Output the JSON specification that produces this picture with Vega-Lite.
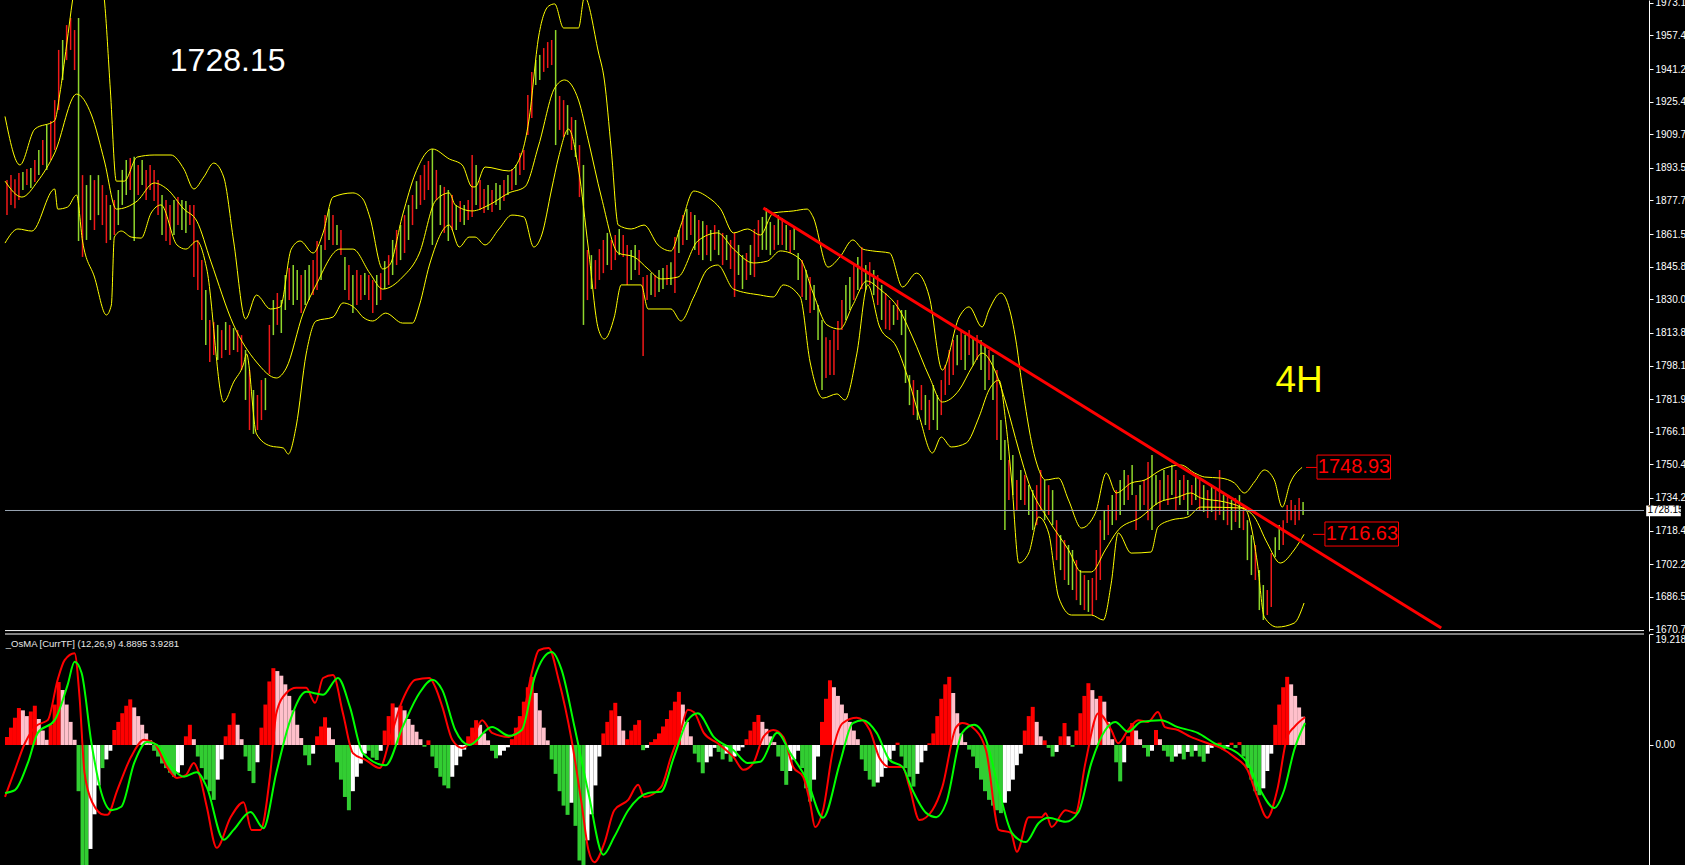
{
"$schema":"https://vega.github.io/schema/vega-lite/v6.json",
"width":1649,"height":865,
"autosize":{"type":"none"},
"padding":{"left":0,"top":0,"right":36,"bottom":0},
"background":"#000000",
"config":{"view":{"stroke":null},"axis":{"grid":false}},
"data":{"values":[{}]},
"datasets":{
"bars":[
{"i":0,"hi":1887.6,"lo":1870.7,"d":"d","h":1.4,"c":"r"},
{"i":1,"hi":1890.0,"lo":1875.6,"d":"d","h":3.0,"c":"r"},
{"i":2,"hi":1888.0,"lo":1874.0,"d":"d","h":4.7,"c":"r"},
{"i":3,"hi":1891.0,"lo":1878.0,"d":"d","h":6.4,"c":"r"},
{"i":4,"hi":1891.5,"lo":1882.8,"d":"u","h":6.0,"c":"p"},
{"i":5,"hi":1893.0,"lo":1885.2,"d":"d","h":5.0,"c":"p"},
{"i":6,"hi":1893.4,"lo":1883.8,"d":"u","h":5.8,"c":"r"},
{"i":7,"hi":1897.3,"lo":1886.7,"d":"d","h":6.8,"c":"r"},
{"i":8,"hi":1902.1,"lo":1890.0,"d":"u","h":4.5,"c":"p"},
{"i":9,"hi":1906.9,"lo":1894.9,"d":"d","h":2.5,"c":"p"},
{"i":10,"hi":1914.2,"lo":1892.5,"d":"u","h":0.9,"c":"p"},
{"i":11,"hi":1916.1,"lo":1897.3,"d":"d","h":3.5,"c":"r"},
{"i":12,"hi":1926.2,"lo":1902.1,"d":"d","h":7.0,"c":"r"},
{"i":13,"hi":1950.4,"lo":1921.4,"d":"d","h":10.9,"c":"r"},
{"i":14,"hi":1955.2,"lo":1935.9,"d":"u","h":9.5,"c":"p"},
{"i":15,"hi":1962.4,"lo":1945.5,"d":"d","h":7.0,"c":"p"},
{"i":16,"hi":1965.8,"lo":1950.4,"d":"d","h":4.0,"c":"p"},
{"i":17,"hi":1960.0,"lo":1940.7,"d":"d","h":0.9,"c":"p"},
{"i":18,"hi":1965.8,"lo":1858.2,"d":"u","h":-8,"c":"g"},
{"i":19,"hi":1890.0,"lo":1850.5,"d":"d","h":-21,"c":"g"},
{"i":20,"hi":1885.2,"lo":1858.7,"d":"u","h":-21,"c":"g"},
{"i":21,"hi":1890.0,"lo":1868.3,"d":"u","h":-18,"c":"w"},
{"i":22,"hi":1887.6,"lo":1863.5,"d":"d","h":-12,"c":"w"},
{"i":23,"hi":1890.0,"lo":1870.7,"d":"u","h":-7,"c":"w"},
{"i":24,"hi":1885.2,"lo":1865.9,"d":"d","h":-4,"c":"g"},
{"i":25,"hi":1880.4,"lo":1857.2,"d":"d","h":-2.5,"c":"w"},
{"i":26,"hi":1875.6,"lo":1858.7,"d":"u","h":-1,"c":"w"},
{"i":27,"hi":1878.0,"lo":1861.1,"d":"d","h":2.6,"c":"r"},
{"i":28,"hi":1882.8,"lo":1865.9,"d":"u","h":4.0,"c":"r"},
{"i":29,"hi":1892.5,"lo":1875.6,"d":"u","h":5.5,"c":"r"},
{"i":30,"hi":1897.3,"lo":1880.4,"d":"u","h":6.8,"c":"r"},
{"i":31,"hi":1898.3,"lo":1882.8,"d":"d","h":7.9,"c":"r"},
{"i":32,"hi":1898.8,"lo":1858.2,"d":"u","h":6.5,"c":"p"},
{"i":33,"hi":1894.9,"lo":1880.4,"d":"d","h":5.0,"c":"p"},
{"i":34,"hi":1897.3,"lo":1885.2,"d":"u","h":3.5,"c":"p"},
{"i":35,"hi":1892.5,"lo":1878.0,"d":"d","h":2.0,"c":"p"},
{"i":36,"hi":1894.9,"lo":1882.8,"d":"d","h":0.8,"c":"p"},
{"i":37,"hi":1892.5,"lo":1877.5,"d":"d","h":-1.0,"c":"g"},
{"i":38,"hi":1887.6,"lo":1870.7,"d":"d","h":-2.0,"c":"g"},
{"i":39,"hi":1880.4,"lo":1861.1,"d":"u","h":-3.2,"c":"g"},
{"i":40,"hi":1878.0,"lo":1858.2,"d":"d","h":-4.0,"c":"g"},
{"i":41,"hi":1875.6,"lo":1856.3,"d":"d","h":-4.8,"c":"g"},
{"i":42,"hi":1878.0,"lo":1861.1,"d":"u","h":-5.5,"c":"g"},
{"i":43,"hi":1879.4,"lo":1865.9,"d":"d","h":-4.8,"c":"w"},
{"i":44,"hi":1878.0,"lo":1863.5,"d":"u","h":-3.5,"c":"w"},
{"i":45,"hi":1877.5,"lo":1862.1,"d":"u","h":1.5,"c":"r"},
{"i":46,"hi":1875.6,"lo":1865.9,"d":"d","h":3.5,"c":"r"},
{"i":47,"hi":1875.6,"lo":1840.8,"d":"d","h":1.0,"c":"p"},
{"i":48,"hi":1858.7,"lo":1834.5,"d":"d","h":-2,"c":"g"},
{"i":49,"hi":1849.0,"lo":1820.1,"d":"d","h":-4,"c":"g"},
{"i":50,"hi":1834.5,"lo":1808.0,"d":"u","h":-6,"c":"g"},
{"i":51,"hi":1820.1,"lo":1799.8,"d":"d","h":-8,"c":"g"},
{"i":52,"hi":1819.1,"lo":1803.2,"d":"d","h":-9.5,"c":"g"},
{"i":53,"hi":1817.7,"lo":1800.8,"d":"u","h":-6,"c":"w"},
{"i":54,"hi":1815.2,"lo":1801.7,"d":"d","h":-2.5,"c":"w"},
{"i":55,"hi":1819.1,"lo":1805.6,"d":"u","h":1.5,"c":"r"},
{"i":56,"hi":1817.7,"lo":1803.2,"d":"d","h":3.5,"c":"r"},
{"i":57,"hi":1816.2,"lo":1805.6,"d":"u","h":5.5,"c":"r"},
{"i":58,"hi":1815.2,"lo":1804.6,"d":"d","h":3.5,"c":"p"},
{"i":59,"hi":1812.8,"lo":1795.9,"d":"d","h":1.0,"c":"p"},
{"i":60,"hi":1805.6,"lo":1781.5,"d":"u","h":-2,"c":"g"},
{"i":61,"hi":1795.9,"lo":1767.0,"d":"d","h":-4.5,"c":"g"},
{"i":62,"hi":1786.3,"lo":1765.1,"d":"u","h":-6.6,"c":"g"},
{"i":63,"hi":1783.9,"lo":1767.0,"d":"d","h":-3.0,"c":"w"},
{"i":64,"hi":1791.1,"lo":1771.8,"d":"d","h":3.0,"c":"r"},
{"i":65,"hi":1792.1,"lo":1776.6,"d":"u","h":7.0,"c":"r"},
{"i":66,"hi":1817.7,"lo":1794.0,"d":"d","h":11.0,"c":"r"},
{"i":67,"hi":1829.7,"lo":1812.8,"d":"u","h":13.3,"c":"r"},
{"i":68,"hi":1833.1,"lo":1817.7,"d":"d","h":12.8,"c":"p"},
{"i":69,"hi":1829.7,"lo":1813.8,"d":"u","h":12.0,"c":"p"},
{"i":70,"hi":1841.8,"lo":1824.9,"d":"u","h":10.5,"c":"p"},
{"i":71,"hi":1845.2,"lo":1829.7,"d":"d","h":8.5,"c":"p"},
{"i":72,"hi":1846.6,"lo":1827.3,"d":"u","h":6.0,"c":"p"},
{"i":73,"hi":1844.2,"lo":1829.7,"d":"u","h":3.5,"c":"p"},
{"i":74,"hi":1841.8,"lo":1823.4,"d":"d","h":1.2,"c":"p"},
{"i":75,"hi":1844.2,"lo":1827.3,"d":"u","h":-1.8,"c":"g"},
{"i":76,"hi":1846.6,"lo":1829.7,"d":"u","h":-3.5,"c":"g"},
{"i":77,"hi":1849.0,"lo":1832.1,"d":"d","h":-1.5,"c":"w"},
{"i":78,"hi":1858.2,"lo":1834.5,"d":"d","h":1.5,"c":"r"},
{"i":79,"hi":1856.3,"lo":1839.4,"d":"u","h":3.2,"c":"r"},
{"i":80,"hi":1870.7,"lo":1853.9,"d":"d","h":4.8,"c":"r"},
{"i":81,"hi":1873.6,"lo":1858.7,"d":"u","h":3.0,"c":"p"},
{"i":82,"hi":1870.7,"lo":1856.3,"d":"d","h":1.0,"c":"p"},
{"i":83,"hi":1865.9,"lo":1856.3,"d":"u","h":-3,"c":"g"},
{"i":84,"hi":1863.5,"lo":1851.4,"d":"d","h":-6,"c":"g"},
{"i":85,"hi":1850.5,"lo":1834.5,"d":"u","h":-9,"c":"g"},
{"i":86,"hi":1846.6,"lo":1829.7,"d":"d","h":-11.3,"c":"g"},
{"i":87,"hi":1841.8,"lo":1823.4,"d":"u","h":-8,"c":"w"},
{"i":88,"hi":1844.2,"lo":1827.3,"d":"d","h":-5.5,"c":"w"},
{"i":89,"hi":1841.8,"lo":1829.7,"d":"d","h":-3.2,"c":"w"},
{"i":90,"hi":1842.7,"lo":1832.1,"d":"u","h":-1.5,"c":"w"},
{"i":91,"hi":1841.8,"lo":1829.7,"d":"d","h":-1.0,"c":"g"},
{"i":92,"hi":1839.4,"lo":1823.4,"d":"d","h":-2.2,"c":"g"},
{"i":93,"hi":1841.8,"lo":1827.3,"d":"u","h":-2.6,"c":"g"},
{"i":94,"hi":1842.7,"lo":1829.7,"d":"d","h":-1.0,"c":"w"},
{"i":95,"hi":1848.5,"lo":1835.0,"d":"u","h":2.5,"c":"r"},
{"i":96,"hi":1851.4,"lo":1837.0,"d":"d","h":5.0,"c":"r"},
{"i":97,"hi":1858.7,"lo":1841.8,"d":"u","h":7.2,"c":"r"},
{"i":98,"hi":1863.5,"lo":1846.6,"d":"d","h":6.5,"c":"p"},
{"i":99,"hi":1865.9,"lo":1849.0,"d":"u","h":6.8,"c":"r"},
{"i":100,"hi":1870.7,"lo":1852.4,"d":"d","h":6.0,"c":"p"},
{"i":101,"hi":1875.6,"lo":1858.7,"d":"u","h":4.5,"c":"p"},
{"i":102,"hi":1880.4,"lo":1865.9,"d":"d","h":3.5,"c":"p"},
{"i":103,"hi":1887.1,"lo":1873.6,"d":"u","h":2.3,"c":"p"},
{"i":104,"hi":1890.0,"lo":1875.6,"d":"d","h":1.0,"c":"p"},
{"i":105,"hi":1894.9,"lo":1878.0,"d":"d","h":-0.3,"c":"g"},
{"i":106,"hi":1896.8,"lo":1882.8,"d":"d","h":0.8,"c":"r"},
{"i":107,"hi":1902.6,"lo":1856.3,"d":"u","h":-2.0,"c":"g"},
{"i":108,"hi":1892.5,"lo":1878.0,"d":"d","h":-4.0,"c":"g"},
{"i":109,"hi":1885.2,"lo":1865.9,"d":"u","h":-5.5,"c":"g"},
{"i":110,"hi":1884.3,"lo":1862.1,"d":"d","h":-7.0,"c":"g"},
{"i":111,"hi":1882.8,"lo":1858.2,"d":"u","h":-7.5,"c":"g"},
{"i":112,"hi":1880.4,"lo":1863.5,"d":"d","h":-5.5,"c":"w"},
{"i":113,"hi":1875.6,"lo":1863.5,"d":"u","h":-3.5,"c":"w"},
{"i":114,"hi":1877.5,"lo":1867.4,"d":"d","h":-2.0,"c":"w"},
{"i":115,"hi":1875.6,"lo":1865.9,"d":"u","h":-0.8,"c":"w"},
{"i":116,"hi":1878.0,"lo":1868.3,"d":"d","h":1.5,"c":"r"},
{"i":117,"hi":1899.7,"lo":1869.8,"d":"d","h":3.0,"c":"r"},
{"i":118,"hi":1894.9,"lo":1875.6,"d":"u","h":4.3,"c":"r"},
{"i":119,"hi":1887.6,"lo":1873.2,"d":"d","h":3.5,"c":"p"},
{"i":120,"hi":1883.3,"lo":1871.7,"d":"d","h":2.0,"c":"p"},
{"i":121,"hi":1885.2,"lo":1873.2,"d":"u","h":0.8,"c":"p"},
{"i":122,"hi":1882.8,"lo":1872.2,"d":"d","h":-1.0,"c":"g"},
{"i":123,"hi":1886.2,"lo":1875.6,"d":"u","h":-2.3,"c":"g"},
{"i":124,"hi":1885.2,"lo":1873.2,"d":"u","h":-1.8,"c":"w"},
{"i":125,"hi":1887.6,"lo":1877.5,"d":"d","h":-1.0,"c":"w"},
{"i":126,"hi":1890.0,"lo":1880.4,"d":"u","h":-0.4,"c":"w"},
{"i":127,"hi":1892.9,"lo":1882.8,"d":"d","h":1.0,"c":"r"},
{"i":128,"hi":1894.9,"lo":1885.2,"d":"u","h":3.0,"c":"r"},
{"i":129,"hi":1900.7,"lo":1890.0,"d":"d","h":5.0,"c":"r"},
{"i":130,"hi":1902.1,"lo":1892.5,"d":"d","h":7.5,"c":"r"},
{"i":131,"hi":1928.7,"lo":1909.4,"d":"d","h":10.0,"c":"r"},
{"i":132,"hi":1939.8,"lo":1917.6,"d":"d","h":11.8,"c":"r"},
{"i":133,"hi":1945.5,"lo":1933.5,"d":"u","h":9.0,"c":"p"},
{"i":134,"hi":1948.0,"lo":1935.9,"d":"u","h":6.0,"c":"p"},
{"i":135,"hi":1951.3,"lo":1939.8,"d":"d","h":3.0,"c":"p"},
{"i":136,"hi":1954.2,"lo":1941.7,"d":"d","h":0.8,"c":"p"},
{"i":137,"hi":1955.2,"lo":1943.1,"d":"d","h":-2.5,"c":"g"},
{"i":138,"hi":1960.0,"lo":1904.5,"d":"u","h":-5,"c":"g"},
{"i":139,"hi":1928.2,"lo":1911.8,"d":"d","h":-8,"c":"g"},
{"i":140,"hi":1926.2,"lo":1908.4,"d":"d","h":-10.5,"c":"g"},
{"i":141,"hi":1923.8,"lo":1909.4,"d":"u","h":-12.1,"c":"g"},
{"i":142,"hi":1918.0,"lo":1902.1,"d":"d","h":-10,"c":"w"},
{"i":143,"hi":1916.6,"lo":1898.7,"d":"u","h":-14,"c":"g"},
{"i":144,"hi":1904.5,"lo":1879.4,"d":"d","h":-20,"c":"g"},
{"i":145,"hi":1894.9,"lo":1817.7,"d":"u","h":-21,"c":"g"},
{"i":146,"hi":1853.9,"lo":1829.7,"d":"d","h":-16.5,"c":"w"},
{"i":147,"hi":1851.4,"lo":1835.0,"d":"u","h":-12,"c":"w"},
{"i":148,"hi":1849.0,"lo":1835.0,"d":"d","h":-7,"c":"w"},
{"i":149,"hi":1854.3,"lo":1839.4,"d":"d","h":-2,"c":"w"},
{"i":150,"hi":1858.7,"lo":1842.7,"d":"d","h":2,"c":"r"},
{"i":151,"hi":1862.1,"lo":1846.6,"d":"u","h":4,"c":"r"},
{"i":152,"hi":1858.7,"lo":1844.2,"d":"d","h":6,"c":"r"},
{"i":153,"hi":1861.1,"lo":1849.0,"d":"d","h":7.3,"c":"r"},
{"i":154,"hi":1864.0,"lo":1851.4,"d":"u","h":5,"c":"p"},
{"i":155,"hi":1861.1,"lo":1850.5,"d":"d","h":2.5,"c":"p"},
{"i":156,"hi":1856.3,"lo":1837.0,"d":"d","h":1.0,"c":"r"},
{"i":157,"hi":1853.9,"lo":1839.4,"d":"u","h":2.5,"c":"r"},
{"i":158,"hi":1856.3,"lo":1844.2,"d":"u","h":3.5,"c":"r"},
{"i":159,"hi":1853.9,"lo":1841.8,"d":"d","h":4.3,"c":"r"},
{"i":160,"hi":1840.8,"lo":1802.7,"d":"d","h":-0.9,"c":"g"},
{"i":161,"hi":1841.8,"lo":1829.7,"d":"d","h":-0.5,"c":"w"},
{"i":162,"hi":1842.7,"lo":1832.1,"d":"u","h":0.5,"c":"r"},
{"i":163,"hi":1841.8,"lo":1831.2,"d":"d","h":1.0,"c":"r"},
{"i":164,"hi":1844.2,"lo":1833.6,"d":"u","h":2.0,"c":"r"},
{"i":165,"hi":1845.2,"lo":1835.0,"d":"u","h":3.2,"c":"r"},
{"i":166,"hi":1846.6,"lo":1837.0,"d":"d","h":4.5,"c":"r"},
{"i":167,"hi":1848.0,"lo":1837.0,"d":"u","h":6.0,"c":"r"},
{"i":168,"hi":1860.1,"lo":1833.1,"d":"d","h":7.5,"c":"r"},
{"i":169,"hi":1863.5,"lo":1852.4,"d":"u","h":9.2,"c":"r"},
{"i":170,"hi":1870.7,"lo":1856.3,"d":"d","h":7.0,"c":"p"},
{"i":171,"hi":1873.6,"lo":1858.7,"d":"u","h":4.0,"c":"p"},
{"i":172,"hi":1872.2,"lo":1861.1,"d":"d","h":1.5,"c":"p"},
{"i":173,"hi":1870.7,"lo":1853.9,"d":"u","h":-1.5,"c":"g"},
{"i":174,"hi":1868.3,"lo":1851.4,"d":"d","h":-3,"c":"g"},
{"i":175,"hi":1867.8,"lo":1849.0,"d":"u","h":-4.9,"c":"g"},
{"i":176,"hi":1865.9,"lo":1851.4,"d":"d","h":-3,"c":"w"},
{"i":177,"hi":1863.5,"lo":1848.5,"d":"u","h":-2,"c":"w"},
{"i":178,"hi":1865.9,"lo":1853.9,"d":"d","h":-0.5,"c":"w"},
{"i":179,"hi":1863.5,"lo":1851.4,"d":"u","h":-1.2,"c":"g"},
{"i":180,"hi":1862.1,"lo":1846.6,"d":"d","h":-2.5,"c":"g"},
{"i":181,"hi":1861.1,"lo":1849.0,"d":"u","h":-1.5,"c":"w"},
{"i":182,"hi":1858.7,"lo":1844.7,"d":"d","h":-2.9,"c":"g"},
{"i":183,"hi":1862.1,"lo":1831.2,"d":"d","h":-2.0,"c":"w"},
{"i":184,"hi":1856.3,"lo":1841.8,"d":"u","h":-1.0,"c":"w"},
{"i":185,"hi":1851.4,"lo":1835.0,"d":"u","h":-0.4,"c":"w"},
{"i":186,"hi":1852.4,"lo":1839.4,"d":"d","h":1.0,"c":"r"},
{"i":187,"hi":1856.3,"lo":1841.8,"d":"u","h":2.5,"c":"r"},
{"i":188,"hi":1864.0,"lo":1840.8,"d":"d","h":4.0,"c":"r"},
{"i":189,"hi":1868.3,"lo":1850.5,"d":"d","h":5.2,"c":"r"},
{"i":190,"hi":1869.8,"lo":1853.9,"d":"u","h":4.0,"c":"p"},
{"i":191,"hi":1874.1,"lo":1853.9,"d":"u","h":2.8,"c":"p"},
{"i":192,"hi":1867.4,"lo":1851.4,"d":"u","h":1.5,"c":"p"},
{"i":193,"hi":1865.9,"lo":1853.9,"d":"d","h":0.5,"c":"p"},
{"i":194,"hi":1870.7,"lo":1856.3,"d":"u","h":-2,"c":"g"},
{"i":195,"hi":1869.3,"lo":1856.3,"d":"d","h":-4.5,"c":"g"},
{"i":196,"hi":1865.9,"lo":1853.9,"d":"u","h":-6.9,"c":"g"},
{"i":197,"hi":1863.5,"lo":1852.4,"d":"d","h":-4.5,"c":"w"},
{"i":198,"hi":1864.5,"lo":1853.9,"d":"u","h":-2.5,"c":"w"},
{"i":199,"hi":1852.4,"lo":1839.4,"d":"u","h":-1.0,"c":"w"},
{"i":200,"hi":1849.0,"lo":1831.2,"d":"d","h":-4,"c":"g"},
{"i":201,"hi":1844.2,"lo":1829.7,"d":"u","h":-7.5,"c":"g"},
{"i":202,"hi":1840.8,"lo":1823.4,"d":"d","h":-9.8,"c":"g"},
{"i":203,"hi":1837.0,"lo":1824.9,"d":"u","h":-6,"c":"w"},
{"i":204,"hi":1827.3,"lo":1810.4,"d":"u","h":-2,"c":"w"},
{"i":205,"hi":1820.1,"lo":1786.3,"d":"u","h":4,"c":"r"},
{"i":206,"hi":1811.8,"lo":1792.1,"d":"d","h":8,"c":"r"},
{"i":207,"hi":1810.4,"lo":1793.5,"d":"d","h":11.2,"c":"r"},
{"i":208,"hi":1815.2,"lo":1793.5,"d":"d","h":10,"c":"p"},
{"i":209,"hi":1819.6,"lo":1805.6,"d":"d","h":8.5,"c":"p"},
{"i":210,"hi":1829.7,"lo":1815.2,"d":"d","h":7,"c":"p"},
{"i":211,"hi":1837.0,"lo":1820.1,"d":"u","h":5.5,"c":"p"},
{"i":212,"hi":1840.8,"lo":1824.9,"d":"u","h":4,"c":"p"},
{"i":213,"hi":1846.6,"lo":1829.7,"d":"d","h":2.5,"c":"p"},
{"i":214,"hi":1850.5,"lo":1834.5,"d":"u","h":1,"c":"p"},
{"i":215,"hi":1855.3,"lo":1835.0,"d":"d","h":-2.5,"c":"g"},
{"i":216,"hi":1846.6,"lo":1834.5,"d":"u","h":-4.5,"c":"g"},
{"i":217,"hi":1848.0,"lo":1837.0,"d":"d","h":-6,"c":"g"},
{"i":218,"hi":1844.2,"lo":1832.1,"d":"u","h":-7.2,"c":"g"},
{"i":219,"hi":1841.8,"lo":1827.3,"d":"d","h":-6.5,"c":"w"},
{"i":220,"hi":1837.0,"lo":1820.1,"d":"u","h":-5.5,"c":"w"},
{"i":221,"hi":1833.1,"lo":1815.7,"d":"d","h":-4,"c":"w"},
{"i":222,"hi":1829.7,"lo":1815.2,"d":"d","h":-2.5,"c":"w"},
{"i":223,"hi":1827.3,"lo":1817.7,"d":"u","h":-1,"c":"w"},
{"i":224,"hi":1829.7,"lo":1820.1,"d":"d","h":0.4,"c":"r"},
{"i":225,"hi":1824.9,"lo":1812.8,"d":"u","h":-2,"c":"g"},
{"i":226,"hi":1824.9,"lo":1789.7,"d":"u","h":-4,"c":"g"},
{"i":227,"hi":1793.5,"lo":1779.0,"d":"u","h":-5.5,"c":"g"},
{"i":228,"hi":1791.1,"lo":1774.2,"d":"d","h":-7.2,"c":"g"},
{"i":229,"hi":1786.3,"lo":1771.8,"d":"u","h":-5,"c":"w"},
{"i":230,"hi":1788.7,"lo":1776.6,"d":"d","h":-3,"c":"w"},
{"i":231,"hi":1783.9,"lo":1769.4,"d":"u","h":-1,"c":"w"},
{"i":232,"hi":1781.5,"lo":1767.0,"d":"d","h":0.3,"c":"r"},
{"i":233,"hi":1788.7,"lo":1771.8,"d":"u","h":2.0,"c":"r"},
{"i":234,"hi":1783.9,"lo":1767.0,"d":"u","h":5.0,"c":"r"},
{"i":235,"hi":1791.1,"lo":1774.2,"d":"d","h":8.0,"c":"r"},
{"i":236,"hi":1798.3,"lo":1783.9,"d":"d","h":10.5,"c":"r"},
{"i":237,"hi":1805.6,"lo":1788.7,"d":"d","h":11.8,"c":"r"},
{"i":238,"hi":1810.4,"lo":1793.5,"d":"d","h":9,"c":"p"},
{"i":239,"hi":1812.8,"lo":1798.3,"d":"u","h":5.5,"c":"p"},
{"i":240,"hi":1815.2,"lo":1800.8,"d":"d","h":2,"c":"p"},
{"i":241,"hi":1812.8,"lo":1795.9,"d":"u","h":0.5,"c":"p"},
{"i":242,"hi":1815.2,"lo":1803.2,"d":"d","h":-0.8,"c":"g"},
{"i":243,"hi":1811.4,"lo":1798.3,"d":"u","h":-2,"c":"g"},
{"i":244,"hi":1812.8,"lo":1800.8,"d":"d","h":-4,"c":"g"},
{"i":245,"hi":1810.4,"lo":1795.9,"d":"u","h":-6,"c":"g"},
{"i":246,"hi":1808.0,"lo":1786.3,"d":"u","h":-8,"c":"g"},
{"i":247,"hi":1805.6,"lo":1791.1,"d":"d","h":-9.5,"c":"g"},
{"i":248,"hi":1803.2,"lo":1781.5,"d":"u","h":-10.5,"c":"g"},
{"i":249,"hi":1795.9,"lo":1762.2,"d":"d","h":-11.3,"c":"g"},
{"i":250,"hi":1771.8,"lo":1752.5,"d":"u","h":-11.8,"c":"g"},
{"i":251,"hi":1762.2,"lo":1718.7,"d":"u","h":-10,"c":"w"},
{"i":252,"hi":1752.5,"lo":1733.2,"d":"d","h":-8,"c":"w"},
{"i":253,"hi":1754.9,"lo":1735.6,"d":"u","h":-6,"c":"w"},
{"i":254,"hi":1742.9,"lo":1728.4,"d":"d","h":-3.5,"c":"w"},
{"i":255,"hi":1747.7,"lo":1733.2,"d":"u","h":-1.5,"c":"w"},
{"i":256,"hi":1745.3,"lo":1730.8,"d":"d","h":2.5,"c":"r"},
{"i":257,"hi":1740.4,"lo":1726.0,"d":"u","h":5.0,"c":"r"},
{"i":258,"hi":1738.0,"lo":1718.7,"d":"u","h":6.6,"c":"r"},
{"i":259,"hi":1740.4,"lo":1721.1,"d":"d","h":4.0,"c":"p"},
{"i":260,"hi":1747.7,"lo":1728.4,"d":"d","h":1.5,"c":"p"},
{"i":261,"hi":1742.9,"lo":1723.5,"d":"u","h":0.8,"c":"r"},
{"i":262,"hi":1740.4,"lo":1726.0,"d":"d","h":-0.5,"c":"g"},
{"i":263,"hi":1738.0,"lo":1721.1,"d":"u","h":-2.0,"c":"g"},
{"i":264,"hi":1723.5,"lo":1704.2,"d":"d","h":-1.2,"c":"w"},
{"i":265,"hi":1716.3,"lo":1699.4,"d":"u","h":1.5,"c":"r"},
{"i":266,"hi":1713.9,"lo":1694.6,"d":"d","h":3.8,"c":"r"},
{"i":267,"hi":1711.5,"lo":1692.2,"d":"u","h":1.5,"c":"p"},
{"i":268,"hi":1709.1,"lo":1689.8,"d":"u","h":-0.3,"c":"g"},
{"i":269,"hi":1704.2,"lo":1684.9,"d":"d","h":2.5,"c":"r"},
{"i":270,"hi":1699.4,"lo":1682.5,"d":"u","h":5.5,"c":"r"},
{"i":271,"hi":1697.0,"lo":1680.1,"d":"d","h":8.5,"c":"r"},
{"i":272,"hi":1694.6,"lo":1679.2,"d":"u","h":10.7,"c":"r"},
{"i":273,"hi":1695.6,"lo":1677.7,"d":"d","h":9.5,"c":"p"},
{"i":274,"hi":1709.1,"lo":1684.9,"d":"d","h":8.0,"c":"p"},
{"i":275,"hi":1723.5,"lo":1694.6,"d":"d","h":8.5,"c":"r"},
{"i":276,"hi":1728.4,"lo":1713.9,"d":"u","h":7.5,"c":"p"},
{"i":277,"hi":1730.8,"lo":1716.3,"d":"d","h":4.0,"c":"p"},
{"i":278,"hi":1735.6,"lo":1721.1,"d":"u","h":1.0,"c":"p"},
{"i":279,"hi":1738.0,"lo":1723.5,"d":"d","h":-3,"c":"g"},
{"i":280,"hi":1742.9,"lo":1726.0,"d":"u","h":-6.3,"c":"g"},
{"i":281,"hi":1747.7,"lo":1730.8,"d":"u","h":-3,"c":"w"},
{"i":282,"hi":1745.3,"lo":1733.2,"d":"d","h":1.5,"c":"r"},
{"i":283,"hi":1750.1,"lo":1735.6,"d":"u","h":3.8,"c":"r"},
{"i":284,"hi":1735.6,"lo":1718.7,"d":"d","h":2.5,"c":"p"},
{"i":285,"hi":1740.4,"lo":1728.4,"d":"u","h":1.0,"c":"p"},
{"i":286,"hi":1742.9,"lo":1730.8,"d":"d","h":-0.5,"c":"g"},
{"i":287,"hi":1751.5,"lo":1723.5,"d":"d","h":-2,"c":"g"},
{"i":288,"hi":1754.9,"lo":1718.7,"d":"u","h":-1,"c":"w"},
{"i":289,"hi":1745.3,"lo":1730.8,"d":"u","h":2.6,"c":"r"},
{"i":290,"hi":1742.9,"lo":1728.4,"d":"d","h":1.0,"c":"p"},
{"i":291,"hi":1747.7,"lo":1733.2,"d":"u","h":-1,"c":"g"},
{"i":292,"hi":1745.3,"lo":1730.8,"d":"d","h":-2,"c":"g"},
{"i":293,"hi":1750.1,"lo":1735.6,"d":"u","h":-2.9,"c":"g"},
{"i":294,"hi":1747.7,"lo":1728.4,"d":"d","h":-2,"c":"w"},
{"i":295,"hi":1742.9,"lo":1730.8,"d":"u","h":-1.5,"c":"w"},
{"i":296,"hi":1745.3,"lo":1733.2,"d":"d","h":-2.5,"c":"g"},
{"i":297,"hi":1742.9,"lo":1726.0,"d":"u","h":-1.2,"c":"w"},
{"i":298,"hi":1740.4,"lo":1730.8,"d":"d","h":-2.0,"c":"g"},
{"i":299,"hi":1745.3,"lo":1733.2,"d":"u","h":-1.0,"c":"w"},
{"i":300,"hi":1742.9,"lo":1728.4,"d":"d","h":-2,"c":"g"},
{"i":301,"hi":1740.4,"lo":1727.4,"d":"u","h":-2.9,"c":"g"},
{"i":302,"hi":1738.0,"lo":1724.5,"d":"d","h":-1.5,"c":"w"},
{"i":303,"hi":1740.4,"lo":1727.4,"d":"u","h":-0.5,"c":"w"},
{"i":304,"hi":1738.0,"lo":1723.5,"d":"d","h":0.3,"c":"r"},
{"i":305,"hi":1747.7,"lo":1726.0,"d":"d","h":0.4,"c":"r"},
{"i":306,"hi":1735.6,"lo":1723.5,"d":"u","h":-0.8,"c":"g"},
{"i":307,"hi":1735.6,"lo":1721.1,"d":"d","h":-0.3,"c":"w"},
{"i":308,"hi":1733.2,"lo":1718.7,"d":"u","h":0.4,"c":"r"},
{"i":309,"hi":1734.2,"lo":1722.6,"d":"d","h":-0.5,"c":"g"},
{"i":310,"hi":1735.6,"lo":1719.7,"d":"u","h":0.5,"c":"r"},
{"i":311,"hi":1730.8,"lo":1718.7,"d":"d","h":-2,"c":"g"},
{"i":312,"hi":1723.5,"lo":1704.2,"d":"u","h":-4,"c":"g"},
{"i":313,"hi":1716.3,"lo":1697.0,"d":"u","h":-6,"c":"g"},
{"i":314,"hi":1711.5,"lo":1694.6,"d":"d","h":-8,"c":"g"},
{"i":315,"hi":1699.4,"lo":1680.1,"d":"u","h":-8.7,"c":"g"},
{"i":316,"hi":1692.2,"lo":1675.3,"d":"u","h":-7.5,"c":"w"},
{"i":317,"hi":1689.8,"lo":1677.7,"d":"d","h":-4.5,"c":"w"},
{"i":318,"hi":1707.6,"lo":1681.6,"d":"d","h":-1.5,"c":"w"},
{"i":319,"hi":1715.3,"lo":1705.7,"d":"u","h":3.5,"c":"r"},
{"i":320,"hi":1721.1,"lo":1709.1,"d":"u","h":7.0,"c":"r"},
{"i":321,"hi":1723.5,"lo":1711.5,"d":"d","h":10.0,"c":"r"},
{"i":322,"hi":1730.8,"lo":1722.1,"d":"d","h":11.8,"c":"r"},
{"i":323,"hi":1733.2,"lo":1723.5,"d":"d","h":10.5,"c":"p"},
{"i":324,"hi":1730.8,"lo":1721.1,"d":"d","h":8.5,"c":"p"},
{"i":325,"hi":1734.2,"lo":1723.5,"d":"d","h":6.5,"c":"p"},
{"i":326,"hi":1732.3,"lo":1726.0,"d":"u","h":4.9,"c":"p"}
],
"bands":[
{"b":"u","i":-0.5,"p":1918.3},{"b":"u","i":3.25,"p":1894.9},{"b":"u","i":7,"p":1912.2},{"b":"u","i":12,"p":1916.3},{"b":"u","i":13.25,"p":1928.7},{"b":"u","i":15,"p":1952.8},{"b":"u","i":16.5,"p":1974.5},{"b":"u","i":18.25,"p":1993.8},{"b":"u","i":20.75,"p":2001.0},{"b":"u","i":23.25,"p":1989.0},{"b":"u","i":24.5,"p":1974.5},{"b":"u","i":26,"p":1931.1},{"b":"u","i":27.5,"p":1887.1},{"b":"u","i":29.5,"p":1887.1},{"b":"u","i":32.75,"p":1898.7},{"b":"u","i":37,"p":1899.7},{"b":"u","i":41.25,"p":1899.7},{"b":"u","i":44.5,"p":1892.9},{"b":"u","i":47,"p":1883.3},{"b":"u","i":49.5,"p":1889.1},{"b":"u","i":52,"p":1895.8},{"b":"u","i":54.5,"p":1889.1},{"b":"u","i":57,"p":1858.2},{"b":"u","i":60,"p":1820.6},{"b":"u","i":62.75,"p":1832.1},{"b":"u","i":66.25,"p":1825.4},{"b":"u","i":68.75,"p":1826.4},{"b":"u","i":71.5,"p":1854.3},{"b":"u","i":73.75,"p":1858.2},{"b":"u","i":77,"p":1852.4},{"b":"u","i":79.5,"p":1862.1},{"b":"u","i":82,"p":1879.4},{"b":"u","i":87,"p":1881.4},{"b":"u","i":89.5,"p":1878.5},{"b":"u","i":91.25,"p":1869.8},{"b":"u","i":94.5,"p":1844.7},{"b":"u","i":96.25,"p":1846.6},{"b":"u","i":99.5,"p":1870.7},{"b":"u","i":102.75,"p":1891.0},{"b":"u","i":107,"p":1902.6},{"b":"u","i":111.25,"p":1897.8},{"b":"u","i":114.5,"p":1894.9},{"b":"u","i":117,"p":1884.3},{"b":"u","i":117.75,"p":1884.3},{"b":"u","i":120.25,"p":1893.9},{"b":"u","i":126.25,"p":1892.0},{"b":"u","i":129.5,"p":1900.7},{"b":"u","i":131.25,"p":1916.1},{"b":"u","i":133.75,"p":1957.1},{"b":"u","i":136.25,"p":1971.6},{"b":"u","i":137.75,"p":1972.6},{"b":"u","i":140,"p":1961.0},{"b":"u","i":143.75,"p":1961.0},{"b":"u","i":145.25,"p":1976.0},{"b":"u","i":148.75,"p":1949.4},{"b":"u","i":150.25,"p":1935.9},{"b":"u","i":152,"p":1902.1},{"b":"u","i":153.75,"p":1865.9},{"b":"u","i":157,"p":1864.0},{"b":"u","i":160.25,"p":1865.9},{"b":"u","i":163.75,"p":1856.3},{"b":"u","i":167,"p":1853.4},{"b":"u","i":169.5,"p":1865.9},{"b":"u","i":172.75,"p":1882.3},{"b":"u","i":176.25,"p":1879.4},{"b":"u","i":179.5,"p":1873.6},{"b":"u","i":182.75,"p":1862.1},{"b":"u","i":186.25,"p":1864.0},{"b":"u","i":189.5,"p":1861.1},{"b":"u","i":192.75,"p":1871.7},{"b":"u","i":197.75,"p":1872.7},{"b":"u","i":201.25,"p":1873.6},{"b":"u","i":202.75,"p":1869.8},{"b":"u","i":206.5,"p":1845.6},{"b":"u","i":209.5,"p":1850.5},{"b":"u","i":212.75,"p":1858.7},{"b":"u","i":215.25,"p":1854.3},{"b":"u","i":217.75,"p":1853.4},{"b":"u","i":222,"p":1852.4},{"b":"u","i":225.25,"p":1836.0},{"b":"u","i":228.75,"p":1842.7},{"b":"u","i":232,"p":1831.2},{"b":"u","i":235.25,"p":1795.9},{"b":"u","i":239.5,"p":1821.5},{"b":"u","i":242,"p":1826.4},{"b":"u","i":245.25,"p":1816.7},{"b":"u","i":247,"p":1824.9},{"b":"u","i":250,"p":1833.1},{"b":"u","i":253.75,"p":1810.4},{"b":"u","i":255.25,"p":1789.7},{"b":"u","i":258.75,"p":1752.5},{"b":"u","i":261.25,"p":1742.9},{"b":"u","i":264.5,"p":1743.8},{"b":"u","i":267,"p":1733.2},{"b":"u","i":270.25,"p":1719.7},{"b":"u","i":273.75,"p":1726.9},{"b":"u","i":276.5,"p":1746.2},{"b":"u","i":279,"p":1736.6},{"b":"u","i":282.75,"p":1741.4},{"b":"u","i":286.25,"p":1742.9},{"b":"u","i":290.25,"p":1747.7},{"b":"u","i":295.25,"p":1750.1},{"b":"u","i":298.75,"p":1746.2},{"b":"u","i":301.25,"p":1744.3},{"b":"u","i":305.25,"p":1743.8},{"b":"u","i":308.75,"p":1741.4},{"b":"u","i":311.25,"p":1736.6},{"b":"u","i":313.75,"p":1741.9},{"b":"u","i":316.25,"p":1747.7},{"b":"u","i":318.75,"p":1742.9},{"b":"u","i":320.75,"p":1729.8},{"b":"u","i":322.75,"p":1741.4},{"b":"u","i":325.75,"p":1748.93},
{"b":"m","i":-0.5,"p":1887.1},{"b":"m","i":3.75,"p":1879.4},{"b":"m","i":7.75,"p":1887.1},{"b":"m","i":12,"p":1900.7},{"b":"m","i":17.5,"p":1929.1},{"b":"m","i":21.25,"p":1919.0},{"b":"m","i":24.5,"p":1896.8},{"b":"m","i":27.5,"p":1873.6},{"b":"m","i":32.75,"p":1877.5},{"b":"m","i":37,"p":1886.2},{"b":"m","i":40.25,"p":1883.3},{"b":"m","i":44.5,"p":1873.6},{"b":"m","i":47.75,"p":1867.8},{"b":"m","i":51.25,"p":1848.5},{"b":"m","i":57,"p":1817.7},{"b":"m","i":62.75,"p":1799.8},{"b":"m","i":67.75,"p":1792.1},{"b":"m","i":70.25,"p":1796.9},{"b":"m","i":74.5,"p":1823.4},{"b":"m","i":77.75,"p":1837.0},{"b":"m","i":83.75,"p":1854.3},{"b":"m","i":87,"p":1854.3},{"b":"m","i":91.25,"p":1842.7},{"b":"m","i":94.5,"p":1835.0},{"b":"m","i":99.5,"p":1840.8},{"b":"m","i":103.75,"p":1852.4},{"b":"m","i":107.75,"p":1877.5},{"b":"m","i":111.25,"p":1881.4},{"b":"m","i":112.75,"p":1875.6},{"b":"m","i":117,"p":1872.7},{"b":"m","i":121.25,"p":1875.6},{"b":"m","i":126.25,"p":1881.4},{"b":"m","i":130.25,"p":1884.3},{"b":"m","i":133.75,"p":1904.5},{"b":"m","i":137.75,"p":1932.0},{"b":"m","i":140.25,"p":1935.9},{"b":"m","i":143.75,"p":1926.2},{"b":"m","i":146.25,"p":1906.5},{"b":"m","i":149.5,"p":1879.4},{"b":"m","i":153.75,"p":1852.4},{"b":"m","i":157.75,"p":1850.5},{"b":"m","i":161.25,"p":1844.7},{"b":"m","i":164.5,"p":1839.9},{"b":"m","i":168.75,"p":1840.8},{"b":"m","i":173.75,"p":1858.2},{"b":"m","i":178.75,"p":1862.1},{"b":"m","i":182.75,"p":1854.3},{"b":"m","i":187.75,"p":1847.6},{"b":"m","i":191.25,"p":1848.5},{"b":"m","i":194.5,"p":1853.4},{"b":"m","i":199.5,"p":1849.5},{"b":"m","i":202.75,"p":1833.1},{"b":"m","i":206.25,"p":1817.7},{"b":"m","i":209.5,"p":1815.7},{"b":"m","i":212.75,"p":1827.3},{"b":"m","i":216.25,"p":1838.9},{"b":"m","i":219.5,"p":1835.0},{"b":"m","i":224.5,"p":1824.9},{"b":"m","i":227.75,"p":1811.9},{"b":"m","i":232,"p":1792.6},{"b":"m","i":235.25,"p":1780.5},{"b":"m","i":239.5,"p":1786.3},{"b":"m","i":242.75,"p":1797.4},{"b":"m","i":245.25,"p":1804.1},{"b":"m","i":248.75,"p":1794.5},{"b":"m","i":251.25,"p":1780.0},{"b":"m","i":254.5,"p":1757.3},{"b":"m","i":257,"p":1741.4},{"b":"m","i":262,"p":1723.5},{"b":"m","i":267,"p":1709.1},{"b":"m","i":270.25,"p":1698.5},{"b":"m","i":272.75,"p":1698.5},{"b":"m","i":276.25,"p":1709.1},{"b":"m","i":279.5,"p":1718.7},{"b":"m","i":285.25,"p":1725.0},{"b":"m","i":289.5,"p":1731.8},{"b":"m","i":294.5,"p":1734.6},{"b":"m","i":297.75,"p":1736.6},{"b":"m","i":300.25,"p":1734.2},{"b":"m","i":306.25,"p":1732.3},{"b":"m","i":310.25,"p":1729.8},{"b":"m","i":313.75,"p":1725.0},{"b":"m","i":317,"p":1712.4},{"b":"m","i":320.25,"p":1702.8},{"b":"m","i":323.75,"p":1709.1},{"b":"m","i":326.25,"p":1716.63},
{"b":"l","i":-0.5,"p":1857.2},{"b":"l","i":2.75,"p":1864.0},{"b":"l","i":6.25,"p":1863.0},{"b":"l","i":12,"p":1883.3},{"b":"l","i":12.75,"p":1873.6},{"b":"l","i":15.25,"p":1874.6},{"b":"l","i":17.5,"p":1880.4},{"b":"l","i":19,"p":1858.2},{"b":"l","i":22,"p":1840.8},{"b":"l","i":25,"p":1822.5},{"b":"l","i":26.25,"p":1827.3},{"b":"l","i":27,"p":1860.1},{"b":"l","i":28.75,"p":1863.0},{"b":"l","i":31.25,"p":1860.1},{"b":"l","i":33.75,"p":1859.6},{"b":"l","i":36.25,"p":1871.7},{"b":"l","i":38.75,"p":1875.6},{"b":"l","i":42.75,"p":1856.3},{"b":"l","i":45,"p":1854.3},{"b":"l","i":47.75,"p":1858.2},{"b":"l","i":50.25,"p":1844.7},{"b":"l","i":54.5,"p":1780.5},{"b":"l","i":57,"p":1790.1},{"b":"l","i":59.5,"p":1798.8},{"b":"l","i":60.25,"p":1803.7},{"b":"l","i":62.75,"p":1765.1},{"b":"l","i":66.25,"p":1759.3},{"b":"l","i":69.5,"p":1758.3},{"b":"l","i":70.75,"p":1755.4},{"b":"l","i":72.75,"p":1768.9},{"b":"l","i":75.25,"p":1803.7},{"b":"l","i":77.75,"p":1819.6},{"b":"l","i":82,"p":1821.5},{"b":"l","i":84.5,"p":1828.3},{"b":"l","i":87.75,"p":1825.4},{"b":"l","i":89.5,"p":1821.5},{"b":"l","i":92,"p":1819.6},{"b":"l","i":95.25,"p":1823.4},{"b":"l","i":99.5,"p":1818.6},{"b":"l","i":102,"p":1818.6},{"b":"l","i":103.75,"p":1827.3},{"b":"l","i":106.25,"p":1846.6},{"b":"l","i":111.25,"p":1865.9},{"b":"l","i":113.75,"p":1855.3},{"b":"l","i":116.25,"p":1860.1},{"b":"l","i":117.75,"p":1860.1},{"b":"l","i":120.25,"p":1856.3},{"b":"l","i":123.75,"p":1864.0},{"b":"l","i":127,"p":1870.7},{"b":"l","i":130,"p":1869.8},{"b":"l","i":132.5,"p":1855.3},{"b":"l","i":134.5,"p":1861.1},{"b":"l","i":137,"p":1883.3},{"b":"l","i":138.75,"p":1898.7},{"b":"l","i":141.25,"p":1912.2},{"b":"l","i":143.75,"p":1892.9},{"b":"l","i":146.25,"p":1854.3},{"b":"l","i":148.75,"p":1815.7},{"b":"l","i":150.25,"p":1810.9},{"b":"l","i":152.75,"p":1821.5},{"b":"l","i":154.5,"p":1837.0},{"b":"l","i":159.5,"p":1837.0},{"b":"l","i":161.25,"p":1825.4},{"b":"l","i":167,"p":1825.4},{"b":"l","i":169.5,"p":1819.6},{"b":"l","i":172.75,"p":1831.2},{"b":"l","i":176.25,"p":1844.7},{"b":"l","i":178.75,"p":1846.6},{"b":"l","i":182.75,"p":1835.0},{"b":"l","i":189.5,"p":1832.1},{"b":"l","i":192.75,"p":1831.2},{"b":"l","i":195.25,"p":1837.0},{"b":"l","i":199.5,"p":1831.2},{"b":"l","i":202,"p":1799.8},{"b":"l","i":205.25,"p":1782.4},{"b":"l","i":208.75,"p":1784.4},{"b":"l","i":210.75,"p":1781.5},{"b":"l","i":213.75,"p":1803.7},{"b":"l","i":216.5,"p":1837.0},{"b":"l","i":219.5,"p":1816.7},{"b":"l","i":223.75,"p":1807.0},{"b":"l","i":227,"p":1789.7},{"b":"l","i":229.5,"p":1773.3},{"b":"l","i":232.75,"p":1755.9},{"b":"l","i":235,"p":1763.6},{"b":"l","i":237.5,"p":1758.8},{"b":"l","i":241.25,"p":1760.7},{"b":"l","i":244.5,"p":1773.3},{"b":"l","i":247,"p":1786.3},{"b":"l","i":249.5,"p":1791.1},{"b":"l","i":251.25,"p":1770.4},{"b":"l","i":252.75,"p":1741.4},{"b":"l","i":254.5,"p":1702.8},{"b":"l","i":257,"p":1707.6},{"b":"l","i":259.5,"p":1725.0},{"b":"l","i":262,"p":1717.3},{"b":"l","i":264.5,"p":1686.4},{"b":"l","i":267.75,"p":1677.7},{"b":"l","i":272.75,"p":1677.7},{"b":"l","i":275.75,"p":1675.3},{"b":"l","i":277.75,"p":1693.1},{"b":"l","i":279.5,"p":1717.3},{"b":"l","i":282.75,"p":1707.6},{"b":"l","i":287.75,"p":1708.1},{"b":"l","i":289.5,"p":1720.2},{"b":"l","i":292.75,"p":1723.5},{"b":"l","i":297,"p":1725.0},{"b":"l","i":300.25,"p":1729.8},{"b":"l","i":311.25,"p":1729.3},{"b":"l","i":312.75,"p":1722.1},{"b":"l","i":314.5,"p":1702.8},{"b":"l","i":316.25,"p":1676.7},{"b":"l","i":319.5,"p":1671.9},{"b":"l","i":323.75,"p":1673.8},{"b":"l","i":326.25,"p":1683.5}
],
"macd":[
{"i":-0.5,"v":-9.0},{"i":2,"v":-4.3},{"i":4.5,"v":0.3},{"i":7.75,"v":3.5},{"i":8.75,"v":3.8},{"i":10.25,"v":4.3},{"i":12.75,"v":11.3},{"i":14.5,"v":14.7},{"i":17,"v":15.9},{"i":18.25,"v":8.3},{"i":19.5,"v":-4.8},{"i":21.5,"v":-10.0},{"i":24.5,"v":-12.1},{"i":25.25,"v":-12.1},{"i":27.75,"v":-7.8},{"i":31.25,"v":-2.0},{"i":34.5,"v":0.9},{"i":37,"v":0.3},{"i":40.25,"v":-3.8},{"i":42.75,"v":-5.7},{"i":45,"v":-5.2},{"i":47,"v":-3.1},{"i":48.25,"v":-4.8},{"i":50.25,"v":-10.7},{"i":52.75,"v":-17.8},{"i":56.25,"v":-12.5},{"i":59.5,"v":-9.9},{"i":61.5,"v":-14.7},{"i":63.75,"v":-14.7},{"i":66.25,"v":-4.8},{"i":67.75,"v":5.5},{"i":70.25,"v":9.0},{"i":72.75,"v":9.9},{"i":75.25,"v":9.9},{"i":77.5,"v":7.3},{"i":79.5,"v":11.6},{"i":82,"v":12.1},{"i":84.5,"v":5.5},{"i":87,"v":-1.4},{"i":90.25,"v":-2.6},{"i":93.75,"v":-4.0},{"i":96.25,"v":0.9},{"i":99.5,"v":7.8},{"i":102.75,"v":11.3},{"i":106.25,"v":11.6},{"i":107.75,"v":10.0},{"i":109.5,"v":6.6},{"i":112,"v":0.9},{"i":114.5,"v":-0.5},{"i":117,"v":0.9},{"i":119.5,"v":4.3},{"i":122,"v":2.1},{"i":126.25,"v":1.4},{"i":129.5,"v":4.3},{"i":132,"v":12.5},{"i":133.75,"v":16.4},{"i":136.25,"v":16.8},{"i":138.75,"v":11.3},{"i":142,"v":0.9},{"i":144.5,"v":-10.0},{"i":146.25,"v":-18.2},{"i":147.75,"v":-20.3},{"i":150.25,"v":-17.0},{"i":152.75,"v":-11.3},{"i":156.25,"v":-9.5},{"i":158.75,"v":-6.9},{"i":160.25,"v":-9.0},{"i":164.5,"v":-7.3},{"i":167,"v":-2.1},{"i":169.5,"v":2.6},{"i":171.25,"v":6.1},{"i":172.75,"v":5.7},{"i":175.25,"v":2.1},{"i":178.75,"v":0.3},{"i":182.75,"v":-2.1},{"i":185.25,"v":-4.3},{"i":187.75,"v":-3.1},{"i":190.25,"v":1.4},{"i":192.75,"v":2.6},{"i":195.25,"v":1.4},{"i":197.75,"v":-3.8},{"i":200.25,"v":-5.5},{"i":202,"v":-10.0},{"i":203.25,"v":-14.2},{"i":205.25,"v":-11.3},{"i":207.75,"v":-0.9},{"i":210.25,"v":3.8},{"i":213.75,"v":4.7},{"i":217,"v":2.6},{"i":219.5,"v":-2.3},{"i":222,"v":-3.8},{"i":225.25,"v":-3.8},{"i":227,"v":-7.3},{"i":229.5,"v":-13.0},{"i":232.75,"v":-11.3},{"i":235.25,"v":-7.3},{"i":238.75,"v":3.1},{"i":240.25,"v":3.8},{"i":242.75,"v":3.1},{"i":246.25,"v":-0.9},{"i":249.5,"v":-14.7},{"i":252.5,"v":-15.2},{"i":254,"v":-18.5},{"i":257,"v":-12.5},{"i":260.25,"v":-12.5},{"i":261.25,"v":-11.8},{"i":262.75,"v":-14.2},{"i":266.25,"v":-11.3},{"i":268.75,"v":-11.8},{"i":271.25,"v":-3.1},{"i":274.5,"v":5.5},{"i":277.75,"v":2.6},{"i":279.5,"v":0.3},{"i":282,"v":2.6},{"i":284.5,"v":4.3},{"i":287,"v":4.0},{"i":289.5,"v":5.7},{"i":291.25,"v":3.1},{"i":294.5,"v":2.6},{"i":297.75,"v":1.4},{"i":302,"v":0.3},{"i":305.25,"v":-0.5},{"i":308.75,"v":-2.1},{"i":312,"v":-4.3},{"i":314.5,"v":-9.0},{"i":317,"v":-12.6},{"i":319.5,"v":-7.8},{"i":322,"v":1.4},{"i":323.75,"v":3.1},{"i":326.5,"v":4.8}
],
"sig":[
{"i":-0.5,"v":-8.3},{"i":2,"v":-7.8},{"i":5.25,"v":-3.1},{"i":7.75,"v":2.1},{"i":12,"v":4.3},{"i":15.25,"v":10.4},{"i":17,"v":14.4},{"i":18.75,"v":12.5},{"i":21.25,"v":0.3},{"i":23.75,"v":-8.3},{"i":26.25,"v":-11.3},{"i":28.75,"v":-10.7},{"i":32,"v":-3.1},{"i":35.25,"v":0.5},{"i":37.75,"v":0.0},{"i":41.25,"v":-3.8},{"i":44.5,"v":-5.5},{"i":47.75,"v":-4.7},{"i":50.25,"v":-7.3},{"i":54.5,"v":-16.4},{"i":57,"v":-14.7},{"i":61.25,"v":-11.6},{"i":64.5,"v":-14.4},{"i":67.75,"v":-4.8},{"i":71.25,"v":4.3},{"i":75.25,"v":9.2},{"i":79.5,"v":8.7},{"i":83.25,"v":11.6},{"i":86.25,"v":6.6},{"i":89.5,"v":-1.4},{"i":95.25,"v":-3.5},{"i":99.5,"v":3.1},{"i":103.75,"v":9.0},{"i":107,"v":11.3},{"i":109.5,"v":9.5},{"i":112.75,"v":2.6},{"i":116.25,"v":0.0},{"i":122,"v":3.1},{"i":126.25,"v":1.6},{"i":129.5,"v":2.6},{"i":132.75,"v":11.8},{"i":137,"v":16.1},{"i":139.5,"v":13.0},{"i":142.75,"v":3.1},{"i":146.25,"v":-8.3},{"i":150,"v":-19.0},{"i":152.75,"v":-15.9},{"i":156.25,"v":-11.3},{"i":161.25,"v":-8.3},{"i":164.5,"v":-8.1},{"i":167.75,"v":-2.1},{"i":171.25,"v":4.3},{"i":173.75,"v":5.5},{"i":177.75,"v":1.4},{"i":182.75,"v":-0.9},{"i":186.25,"v":-3.1},{"i":189.5,"v":-2.9},{"i":193.75,"v":2.1},{"i":197,"v":-1.4},{"i":201.25,"v":-6.1},{"i":205.25,"v":-12.6},{"i":209.5,"v":-3.1},{"i":212.75,"v":3.8},{"i":215.25,"v":4.3},{"i":218.75,"v":2.1},{"i":222,"v":-2.6},{"i":225.25,"v":-3.8},{"i":227.75,"v":-7.8},{"i":231.25,"v":-11.8},{"i":233.75,"v":-12.5},{"i":236.25,"v":-10.0},{"i":240.25,"v":2.1},{"i":243.25,"v":3.5},{"i":246.25,"v":0.9},{"i":249.5,"v":-7.8},{"i":252.75,"v":-15.2},{"i":256.25,"v":-16.8},{"i":259.5,"v":-13.5},{"i":262,"v":-12.6},{"i":266.25,"v":-13.3},{"i":269.5,"v":-11.6},{"i":272.75,"v":-3.1},{"i":276.25,"v":2.6},{"i":278.75,"v":4.0},{"i":282,"v":2.3},{"i":285.25,"v":4.0},{"i":290.25,"v":4.3},{"i":294.5,"v":3.1},{"i":299.5,"v":2.1},{"i":303.75,"v":0.3},{"i":309.5,"v":-1.4},{"i":312,"v":-3.1},{"i":315.25,"v":-7.8},{"i":318.75,"v":-10.9},{"i":321.25,"v":-7.8},{"i":323.75,"v":-0.9},{"i":326.5,"v":3.8}
]
},
"layer":[
 {"data":{"name":"bars"},"mark":{"type":"rule","strokeWidth":1.5},
  "encoding":{
   "x":{"field":"i","type":"quantitative","scale":{"domain":[-0.5,411.75],"nice":false,"zero":false},"axis":null},
   "y":{"field":"hi","type":"quantitative","scale":{"domain":[1670.0,1974.5],"range":[631,0],"nice":false,"zero":false},
        "axis":{"orient":"right","title":null,"values":[1973.15,1957.4,1941.2,1925.45,1909.7,1893.5,1877.75,1861.55,1845.8,1830.05,1813.85,1798.1,1781.9,1766.15,1750.4,1734.2,1718.45,1702.25,1686.5,1670.75],"format":".2f","grid":false,"domain":true,"domainColor":"#ffffff","ticks":true,"tickColor":"#ffffff","tickSize":4,"labels":true,"labelColor":"#ffffff","labelFont":"Liberation Sans","labelFontSize":10,"labelPadding":2,"labelOverlap":false,"labelBound":false,"labelFlush":false}},
   "y2":{"field":"lo"},
   "stroke":{"field":"d","type":"nominal","scale":{"domain":["u","d"],"range":["#8fd62c","#f01818"]},"legend":null}}},
 {"data":{"name":"bands"},"mark":{"type":"line","color":"#ffff00","strokeWidth":1,"interpolate":"monotone"},
  "encoding":{"x":{"field":"i","type":"quantitative","axis":null},"y":{"field":"p","type":"quantitative","scale":{"domain":[1670.0,1974.5],"range":[631,0],"nice":false,"zero":false},"axis":null},"detail":{"field":"b"}}},
 {"data":{"values":[{"i":190.25,"p":1874.1},{"i":360.75,"p":1671.4}]},"mark":{"type":"line","color":"#ff0000","strokeWidth":3},
  "encoding":{"x":{"field":"i","type":"quantitative","axis":null},"y":{"field":"p","type":"quantitative","scale":{"domain":[1670.0,1974.5],"range":[631,0],"nice":false,"zero":false},"axis":null}}},
 {"data":{"values":[{"x0":-0.5,"x1":411.75,"p":1728.15}]},"mark":{"type":"rule","color":"#98a4b3","strokeWidth":1},
  "encoding":{"x":{"field":"x0","type":"quantitative","axis":null},"x2":{"field":"x1"},"y":{"field":"p","type":"quantitative","scale":{"domain":[1670.0,1974.5],"range":[631,0],"nice":false,"zero":false},"axis":null}}},
 {"data":{"values":[{"x0":-0.5,"x1":411.75,"p":1670.2}]},"mark":{"type":"rule","color":"#ffffff","strokeWidth":1},
  "encoding":{"x":{"field":"x0","type":"quantitative","axis":null},"x2":{"field":"x1"},"y":{"field":"p","type":"quantitative","scale":{"domain":[1670.0,1974.5],"range":[631,0],"nice":false,"zero":false},"axis":null}}},
 {"data":{"values":[{"x0":412.3,"x1":421,"p0":1730.6,"p1":1725.4}]},"mark":{"type":"rect","color":"#ffffff"},
  "encoding":{"x":{"field":"x0","type":"quantitative","axis":null},"x2":{"field":"x1"},"y":{"field":"p0","type":"quantitative","scale":{"domain":[1670.0,1974.5],"range":[631,0],"nice":false,"zero":false},"axis":null},"y2":{"field":"p1"}}},
 {"data":{"values":[{"i":412.6,"p":1728.15,"t":"1728.15"}]},"mark":{"type":"text","color":"#000000","font":"Liberation Sans","fontSize":10,"align":"left","baseline":"middle"},
  "encoding":{"x":{"field":"i","type":"quantitative","axis":null},"y":{"field":"p","type":"quantitative","scale":{"domain":[1670.0,1974.5],"range":[631,0],"nice":false,"zero":false},"axis":null},"text":{"field":"t"}}},
 {"data":{"values":[{"x0":326.75,"x1":329.5,"p":1748.93},{"x0":328.5,"x1":331.5,"p":1716.63}]},"mark":{"type":"rule","color":"#ff0000","strokeWidth":1},
  "encoding":{"x":{"field":"x0","type":"quantitative","axis":null},"x2":{"field":"x1"},"y":{"field":"p","type":"quantitative","scale":{"domain":[1670.0,1974.5],"range":[631,0],"nice":false,"zero":false},"axis":null}}},
 {"data":{"values":[{"x0":329.5,"x1":348,"p0":1754.9,"p1":1743.3},{"x0":331.5,"x1":350,"p0":1722.6,"p1":1711.0}]},"mark":{"type":"rect","fill":"#000000","stroke":"#ff0000","strokeWidth":1},
  "encoding":{"x":{"field":"x0","type":"quantitative","axis":null},"x2":{"field":"x1"},"y":{"field":"p0","type":"quantitative","scale":{"domain":[1670.0,1974.5],"range":[631,0],"nice":false,"zero":false},"axis":null},"y2":{"field":"p1"}}},
 {"data":{"values":[{"i":338.8,"p":1749.0,"t":"1748.93"},{"i":340.8,"p":1716.7,"t":"1716.63"}]},"mark":{"type":"text","color":"#ff0000","font":"Liberation Sans","fontSize":20,"align":"center","baseline":"middle"},
  "encoding":{"x":{"field":"i","type":"quantitative","axis":null},"y":{"field":"p","type":"quantitative","scale":{"domain":[1670.0,1974.5],"range":[631,0],"nice":false,"zero":false},"axis":null},"text":{"field":"t"}}},
 {"data":{"values":[{"i":55.5,"p":1945.1,"t":"1728.15"}]},"mark":{"type":"text","color":"#ffffff","font":"Liberation Sans","fontSize":32,"align":"center","baseline":"middle"},
  "encoding":{"x":{"field":"i","type":"quantitative","axis":null},"y":{"field":"p","type":"quantitative","scale":{"domain":[1670.0,1974.5],"range":[631,0],"nice":false,"zero":false},"axis":null},"text":{"field":"t"}}},
 {"data":{"values":[{"i":325,"p":1790.6,"t":"4H"}]},"mark":{"type":"text","color":"#ffff00","font":"Liberation Sans","fontSize":37,"align":"center","baseline":"middle"},
  "encoding":{"x":{"field":"i","type":"quantitative","axis":null},"y":{"field":"p","type":"quantitative","scale":{"domain":[1670.0,1974.5],"range":[631,0],"nice":false,"zero":false},"axis":null},"text":{"field":"t"}}},
 {"data":{"name":"bars"},"mark":{"type":"bar","width":4},
  "encoding":{
   "x":{"field":"i","type":"quantitative","axis":null},
   "y":{"field":"h","type":"quantitative","scale":{"domain":[-20.78,19.218],"range":[865,634],"nice":false,"zero":false},
        "axis":{"orient":"right","title":null,"values":[19.218,0],"labelExpr":"datum.value === 0 ? '0.00' : '19.218'","grid":false,"domain":true,"domainColor":"#ffffff","ticks":true,"tickColor":"#ffffff","tickSize":4,"labels":true,"labelColor":"#ffffff","labelFont":"Liberation Sans","labelFontSize":10,"labelPadding":2,"labelFlush":true,"labelFlushOffset":0,"labelBound":false}},
   "y2":{"datum":0},
   "fill":{"field":"c","type":"nominal","scale":{"domain":["r","p","g","w"],"range":["#ff0000","#ffc0cb","#32cd32","#ffffff"]},"legend":null}}},
 {"data":{"name":"macd"},"mark":{"type":"line","color":"#ff0000","strokeWidth":2,"interpolate":"monotone"},
  "encoding":{"x":{"field":"i","type":"quantitative","axis":null},"y":{"field":"v","type":"quantitative","scale":{"domain":[-20.78,19.218],"range":[865,634],"nice":false,"zero":false},"axis":null}}},
 {"data":{"name":"sig"},"mark":{"type":"line","color":"#00ff00","strokeWidth":2,"interpolate":"monotone"},
  "encoding":{"x":{"field":"i","type":"quantitative","axis":null},"y":{"field":"v","type":"quantitative","scale":{"domain":[-20.78,19.218],"range":[865,634],"nice":false,"zero":false},"axis":null}}},
 {"data":{"values":[{"x0":-0.5,"x1":411.75,"v":19.218}]},"mark":{"type":"rule","color":"#ffffff","strokeWidth":1},
  "encoding":{"x":{"field":"x0","type":"quantitative","axis":null},"x2":{"field":"x1"},"y":{"field":"v","type":"quantitative","scale":{"domain":[-20.78,19.218],"range":[865,634],"nice":false,"zero":false},"axis":null}}},
 {"data":{"values":[{"i":-0.3,"v":17.4,"t":"_OsMA [CurrTF] (12,26,9) 4.8895 3.9281"}]},"mark":{"type":"text","color":"#e8e8e8","font":"Liberation Sans","fontSize":9.5,"align":"left","baseline":"middle"},
  "encoding":{"x":{"field":"i","type":"quantitative","axis":null},"y":{"field":"v","type":"quantitative","scale":{"domain":[-20.78,19.218],"range":[865,634],"nice":false,"zero":false},"axis":null},"text":{"field":"t"}}}
],
"resolve":{"scale":{"y":"independent"}}
}
